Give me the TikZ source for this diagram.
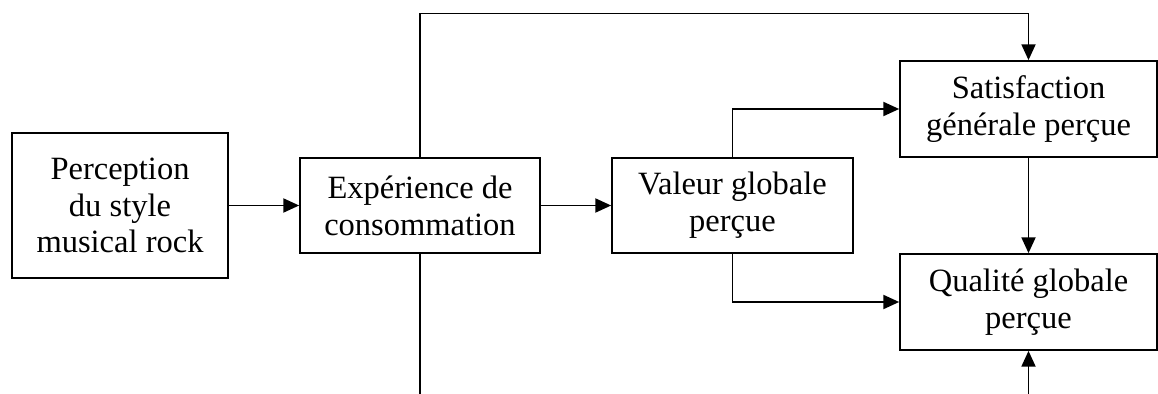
\documentclass[tikz,border=0pt]{standalone}
\usepackage{fontspec}
\setmainfont{Liberation Serif}
\usepackage{tikz}
\usetikzlibrary{arrows.meta,positioning,calc}
\tikzset{
  boite/.style={draw=black,fill=white,line width=1pt,inner sep=2pt,
    font=\fontsize{18.5}{21}\selectfont,align=center},
  arr/.style={-{Triangle[length=9pt,width=8pt]},draw=black,line width=1pt},
  trait/.style={draw=black,line width=1pt},
}
\begin{document}
\begin{tikzpicture}[x=0.02cm,y=-0.02cm]
    \useasboundingbox (0,0) rectangle (1158,394);
    \node[boite,minimum width=4.32cm,minimum height=2.9cm] (percep) at (120,205.5) {Perception\\du style\\musical rock};
    \node[boite,minimum width=4.8cm,minimum height=1.9cm] (exper) at (420,205.5) {Expérience de\\consommation};
    \node[boite,minimum width=4.82cm,minimum height=1.9cm] (valeur) at (732.5,205.5) {Valeur globale\\perçue};
    \node[boite,minimum width=5.14cm,minimum height=1.92cm] (satisf) at (1028.5,109) {Satisfaction\\générale perçue};
    \node[boite,minimum width=5.14cm,minimum height=1.92cm] (qualite) at (1028.5,302) {Qualité globale\\perçue};
    \coordinate (haut) at (700,13.5);
    \coordinate (bas) at (700,394);
    \draw[arr](percep)--(exper);\draw[arr](exper)--(valeur);
    \draw[arr](exper.north) |- (haut) -| (satisf.north);
    \draw[arr](valeur.north) |- (satisf.west);\draw[arr](valeur.south) |- (qualite.west);
    \draw[arr](satisf)--(qualite);
    \draw[trait](exper.south) -- (exper.south |- bas);
    \draw[arr](qualite.south |- bas) -- (qualite.south);
  \end{tikzpicture}
\end{document}
